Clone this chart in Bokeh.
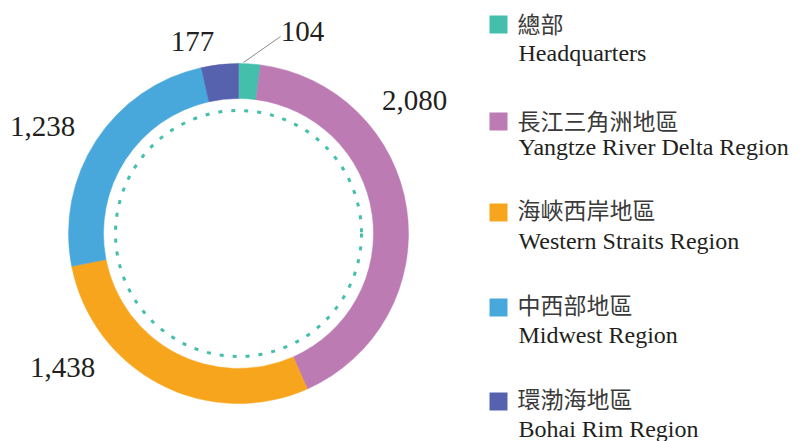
import math
from bokeh.plotting import figure
from bokeh.models import Range1d, ColumnDataSource
from bokeh.core.properties import value
from bokeh.embed import file_html
from bokeh.resources import INLINE

# ---- data ----
names_zh = ["總部", "長江三角洲地區", "海峽西岸地區", "中西部地區", "環渤海地區"]
names_en = ["Headquarters", "Yangtze River Delta Region", "Western Straits Region",
            "Midwest Region", "Bohai Rim Region"]
counts = [104, 2080, 1438, 1238, 177]
labels = ["104", "2,080", "1,438", "1,238", "177"]
colors = ["#43BFAB", "#BD7BB4", "#F8A51E", "#48A8DC", "#5762AE"]

W, H = 808, 441
TXT = "#231F20"
SERIF = "Liberation Serif"
CJK = "Noto Sans CJK TC"


def Y(y):  # reference pixel y -> data y
    return H - y


p = figure(width=W, height=H, x_range=Range1d(0, W), y_range=Range1d(0, H),
           output_backend="svg", toolbar_location=None, min_border=0)
p.axis.visible = False
p.grid.visible = False
p.outline_line_color = None
p.background_fill_color = None
p.border_fill_color = "white"

cx, cy = 238, Y(233)
r_out, r_in = 170, 135

total = sum(counts)
cum = [0]
for c in counts:
    cum.append(cum[-1] + c)
starts = [math.pi / 2 - cum[i + 1] / total * 2 * math.pi for i in range(len(counts))]
ends = [math.pi / 2 - cum[i] / total * 2 * math.pi for i in range(len(counts))]

src = ColumnDataSource(dict(start=starts, end=ends, color=colors))
p.annular_wedge(x=cx, y=cy, inner_radius=r_in, outer_radius=r_out,
                start_angle="start", end_angle="end", fill_color="color",
                line_color="color", line_width=0.5, source=src)

# dotted inner circle
p.circle(x=[cx], y=[cy], radius=123, fill_color=None, line_color=colors[0],
         line_width=3, line_dash="4 9")

# value labels (layout positions)
lab_x = [302, 414, 62, 42, 192]
lab_y = [Y(31), Y(100), Y(367), Y(126), Y(41)]
p.text(x=lab_x, y=lab_y, text=labels, text_font=value(SERIF), text_font_size="29px",
       text_color=TXT, text_align="center", text_baseline="middle")

# leader line for headquarters
p.line(x=[243, 280], y=[Y(62), Y(36)], line_color="#8a8a8a", line_width=1)

# legend
sq_y = [24, 121, 212, 307, 401]
zh_y = [22, 119, 208, 303, 397]
en_y = [52, 146, 240, 334, 428]
p.rect(x=[498] * 5, y=[Y(v) for v in sq_y], width=18, height=18,
       fill_color=colors, line_color=None)
p.text(x=[517] * 5, y=[Y(v) for v in zh_y], text=names_zh, text_font=value(CJK),
       text_font_size="23px", text_color="#3a3a3a",
       text_align="left", text_baseline="middle")
p.text(x=[518] * 5, y=[Y(v) for v in en_y], text=names_en, text_font=value(SERIF),
       text_font_size="24px", text_color=TXT, text_align="left", text_baseline="middle")

open("out.html", "w").write(file_html(p, INLINE))
